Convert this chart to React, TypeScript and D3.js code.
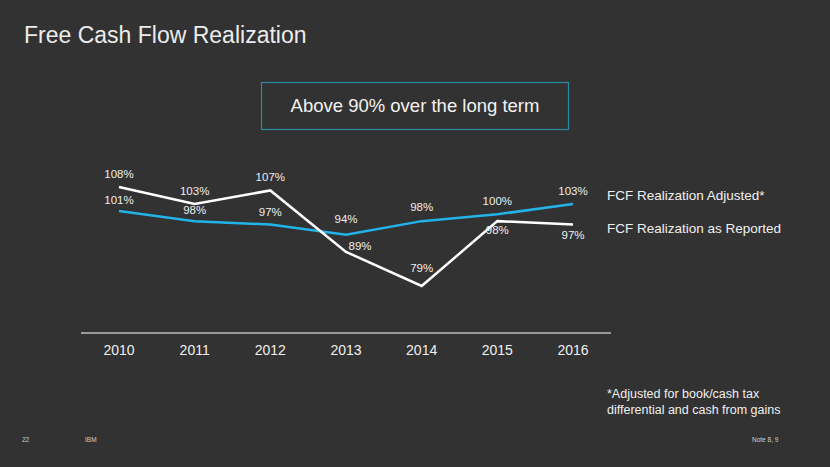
import React from "react";
import * as d3 from "d3";

const years = ["2010", "2011", "2012", "2013", "2014", "2015", "2016"];
const reported = [108, 103, 107, 89, 79, 98, 97];
const adjusted = [101, 98, 97, 94, 98, 100, 103];
const legendLabels = ["FCF Realization Adjusted*", "FCF Realization as Reported"];

// label offsets (dx, dy) relative to each point, for layout only
const reportedLabelOffset: [number, number][] = [
  [0, -9], [0, -9], [0, -9], [14, -2], [0, -14], [0, 13], [0, 14],
];
const adjustedLabelOffset: [number, number][] = [
  [0, -7], [0, -7], [0, -9], [0, -12], [0, -10], [0, -9], [0, -9],
];

const W = 830;
const H = 467;
const FONT = "Arial, 'Liberation Sans', Helvetica, sans-serif";

export default function App() {
  const x = d3.scalePoint<string>().domain(years).range([119, 573]);
  const y = d3.scaleLinear().domain([79, 108]).range([286, 187]);

  const line = d3
    .line<number>()
    .x((_, i) => x(years[i]) as number)
    .y((d) => y(d));

  return (
    <svg
      width={W}
      height={H}
      style={{ position: "absolute", left: 0, top: 0, background: "#323232" }}
      fontFamily={FONT}
    >
      <rect x={0} y={0} width={W} height={H} fill="#323232" />
      <text x={24} y={43} fontSize={23} fill="#ececec">
        Free Cash Flow Realization
      </text>

      <rect x={261.5} y={82.5} width={307} height={47} fill="none" stroke="#2b8ba3" strokeWidth={1.2} />
      <text x={415} y={112} fontSize={18.5} fill="#f2f2f2" textAnchor="middle">
        Above 90% over the long term
      </text>

      <line x1={81} x2={611} y1={333} y2={333} stroke="#bdbdbd" strokeWidth={1.5} />
      {years.map((yr) => (
        <text key={yr} x={x(yr)} y={355} fontSize={14} fill="#f0f0f0" textAnchor="middle">
          {yr}
        </text>
      ))}

      <path d={line(adjusted) || ""} fill="none" stroke="#22b4e8" strokeWidth={2.5} />
      <path d={line(reported) || ""} fill="none" stroke="#ffffff" strokeWidth={2.5} />

      {reported.map((v, i) => (
        <text
          key={"r" + i}
          x={(x(years[i]) as number) + reportedLabelOffset[i][0]}
          y={y(v) + reportedLabelOffset[i][1]}
          fontSize={11.5}
          fill="#eeeeee"
          textAnchor="middle"
        >
          {v}%
        </text>
      ))}
      {adjusted.map((v, i) => (
        <text
          key={"a" + i}
          x={(x(years[i]) as number) + adjustedLabelOffset[i][0]}
          y={y(v) + adjustedLabelOffset[i][1]}
          fontSize={11.5}
          fill="#eeeeee"
          textAnchor="middle"
        >
          {v}%
        </text>
      ))}

      <text x={607} y={200} fontSize={13.5} fill="#f0f0f0">
        {legendLabels[0]}
      </text>
      <text x={607} y={233} fontSize={13.5} fill="#f0f0f0">
        {legendLabels[1]}
      </text>

      <text x={607} y={398} fontSize={12.5} fill="#f0f0f0">
        *Adjusted for book/cash tax
      </text>
      <text x={607} y={414} fontSize={12.5} fill="#f0f0f0">
        differential and cash from gains
      </text>

      <text x={22} y={442} fontSize={6.5} fill="#cfcfcf">22</text>
      <text x={85} y={442} fontSize={6.5} fill="#cfcfcf">IBM</text>
      <text x={752} y={442} fontSize={6.5} fill="#cfcfcf">Note 8, 9</text>
    </svg>
  );
}
